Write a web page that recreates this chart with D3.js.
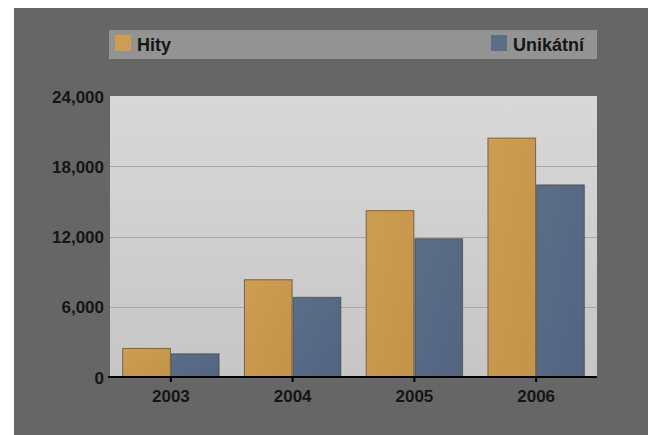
<!DOCTYPE html>
<html>
<head>
<meta charset="utf-8">
<script src="https://cdn.jsdelivr.net/npm/d3@7"></script>
<style>
  body { margin: 0; background: #fff; }
  svg { display: block; }
</style>
</head>
<body>
<div id="canvas"></div>
<script>
(function () {
  var years = ['2003', '2004', '2005', '2006']
  var hity = [2480, 8350, 14250, 20450]
  var unikatni = [2020, 6850, 11850, 16450]
  var seriesNames = ['Hity', 'Unikátní']
  var yTicks = [0, 6000, 12000, 18000, 24000]

  var W = 648, H = 435
  var plot = { left: 110, right: 597, top: 96, bottom: 377 }
  var font = 'Liberation Sans, Arial, sans-serif'

  var svg = d3.select('#canvas').append('svg')
    .attr('width', W)
    .attr('height', H)

  var defs = svg.append('defs')
  var bgGrad = defs.append('linearGradient').attr('id', 'bg').attr('x1', 0).attr('y1', 0).attr('x2', 0).attr('y2', 1)
  bgGrad.append('stop').attr('offset', '0%').attr('stop-color', '#d8d8d8')
  bgGrad.append('stop').attr('offset', '100%').attr('stop-color', '#c6c6c6')

  var colors = [['#cd9d52', '#c4934a'], ['#5b6e88', '#526480']]
  colors.forEach(function (c, i) {
    var g = defs.append('linearGradient').attr('id', 'bar' + i).attr('x1', 0).attr('y1', 0).attr('x2', 1).attr('y2', 1)
    g.append('stop').attr('offset', '0%').attr('stop-color', c[0])
    g.append('stop').attr('offset', '100%').attr('stop-color', c[1])
  })

  // outer dark background
  svg.append('rect').attr('x', 14).attr('y', 8).attr('width', W - 14).attr('height', H - 8).attr('fill', '#666666')

  // legend
  var legend = svg.append('g')
  legend.append('rect').attr('x', 109).attr('y', 30).attr('width', 488).attr('height', 29).attr('fill', '#939393')
  var legendItems = [
    { name: seriesNames[0], x: 115 },
    { name: seriesNames[1], x: 491 }
  ]
  legendItems.forEach(function (d, i) {
    legend.append('rect').attr('x', d.x).attr('y', 35).attr('width', 16).attr('height', 16)
      .attr('fill', colors[i][0])
    legend.append('text').attr('x', d.x + 22).attr('y', 51)
      .attr('font-family', font)
      .attr('font-weight', 'bold').attr('font-size', '18px').attr('fill', '#151515')
      .text(d.name)
  })

  var x0 = d3.scaleBand().domain(years).range([plot.left, plot.right]).paddingInner(0.2).paddingOuter(0.1)
  var x1 = d3.scaleBand().domain([0, 1]).range([0, x0.bandwidth()])
  var y = d3.scaleLinear().domain([0, 24000]).range([plot.bottom, plot.top])

  svg.append('rect').attr('x', plot.left).attr('y', plot.top)
    .attr('width', plot.right - plot.left).attr('height', plot.bottom - plot.top)
    .attr('fill', 'url(#bg)')

  // grid
  svg.append('g').selectAll('line').data(yTicks.slice(1, 4)).enter().append('line')
    .attr('x1', plot.left).attr('x2', plot.right)
    .attr('y1', function (d) { return Math.round(y(d)) + 0.5 })
    .attr('y2', function (d) { return Math.round(y(d)) + 0.5 })
    .attr('stroke', '#a9a9a9').attr('stroke-width', 1)

  // bars
  var data = years.map(function (yr, i) { return { year: yr, vals: [hity[i], unikatni[i]] } })
  var groups = svg.append('g').selectAll('g').data(data).enter().append('g')
    .attr('transform', function (d) { return 'translate(' + x0(d.year) + ',0)' })
  groups.selectAll('rect').data(function (d) { return d.vals }).enter().append('rect')
    .attr('x', function (d, i) { return x1(i) + 0.5 })
    .attr('y', function (d) { return y(d) + 0.5 })
    .attr('width', x1.bandwidth() - 1)
    .attr('height', function (d) { return y(0) - y(d) })
    .attr('fill', function (d, i) { return 'url(#bar' + i + ')' })
    .attr('stroke', 'rgba(60,50,40,0.6)').attr('stroke-width', 1)

  // x axis
  var xAxis = svg.append('g').attr('transform', 'translate(0,' + plot.bottom + ')')
    .call(d3.axisBottom(x0).tickSize(5).tickSizeOuter(0))
  xAxis.select('.domain').attr('stroke', '#000').attr('stroke-width', 2)
    .attr('d', 'M' + (plot.left - 2) + ',0H' + plot.right)
  xAxis.selectAll('.tick line').attr('stroke', '#000').attr('stroke-width', 2)
  xAxis.selectAll('.tick text')
    .attr('font-family', font)
    .attr('font-weight', 'bold').attr('font-size', '17px').attr('fill', '#151515')
    .attr('y', 13).attr('dy', '0.71em')

  // y axis labels
  var yAxis = svg.append('g').attr('transform', 'translate(' + plot.left + ',0)')
    .call(d3.axisLeft(y).tickValues(yTicks).tickSize(0).tickPadding(6).tickFormat(d3.format(',')))
  yAxis.select('.domain').remove()
  yAxis.selectAll('.tick text')
    .attr('font-family', font)
    .attr('font-weight', 'bold').attr('font-size', '17px').attr('fill', '#151515')
    .attr('dy', '0.36em')
})()
</script>
</body>
</html>
